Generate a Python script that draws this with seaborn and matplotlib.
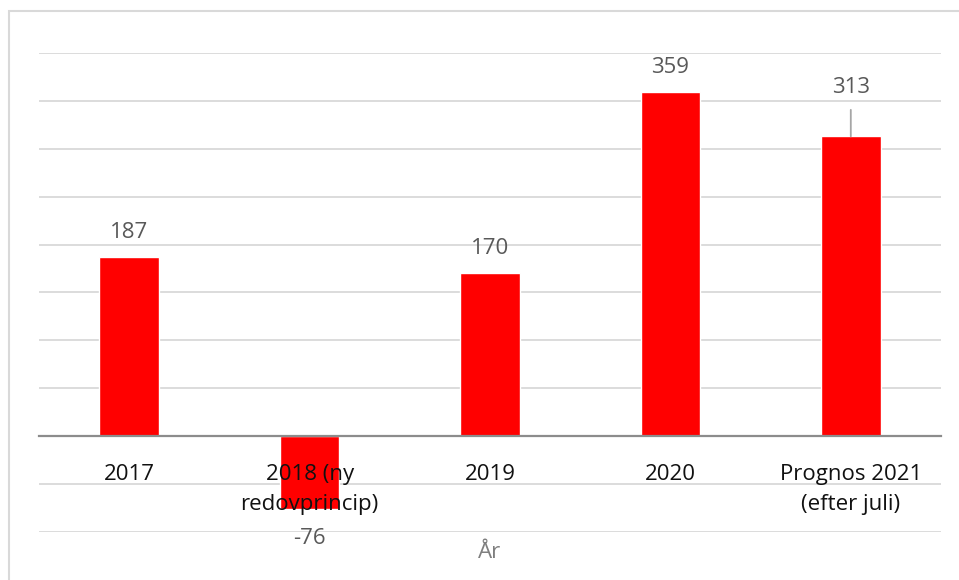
import matplotlib
matplotlib.use("Agg")
import matplotlib.pyplot as plt
import matplotlib.patches as patches
import seaborn as sns
import pandas as pd

# data
years = ["2017", "2018 (ny\nredovprincip)", "2019", "2020", "Prognos 2021\n(efter juli)"]
values = [187, -76, 170, 359, 313]

sns.set_theme(style="white")
plt.rcParams["font.family"] = ["Open Sans", "DejaVu Sans"]

df = pd.DataFrame({"År": years, "Värde": values})

fig = plt.figure(figsize=(9.59, 5.8), dpi=100)
ax = fig.add_axes([39 / 959, 1 - 532 / 580, 902 / 959, 479 / 580])

sns.barplot(data=df, x="År", y="Värde", color="#ff0000", width=0.33,
            saturation=1, ax=ax, zorder=2)

ax.set_ylim(-100, 400)
ax.set_xlim(-0.5, len(years) - 0.5)
ax.set_yticks(range(-100, 401, 50))
ax.yaxis.grid(True, color="#d9d9d9", linewidth=1.3)
ax.set_axisbelow(True)
ax.xaxis.set_zorder(5)
ax.tick_params(axis="y", left=False, labelleft=False)

for s in ["top", "right", "left"]:
    ax.spines[s].set_visible(False)
ax.spines["bottom"].set_position(("data", 0))
ax.spines["bottom"].set_color("#8c8c8c")
ax.spines["bottom"].set_linewidth(1.6)
ax.spines["bottom"].set_zorder(4)

ax.tick_params(axis="x", length=0, pad=20, labelsize=16, labelcolor="#111111")
for lbl in ax.get_xticklabels():
    lbl.set_linespacing(1.55)
ax.set_xlabel("")
ax.set_ylabel("")

# data labels
for i, v in enumerate(values):
    if i == 4:
        ax.annotate(str(v), xy=(i, v), xytext=(0, 35), textcoords="offset points",
                    ha="center", va="center", fontsize=16, color="#595959",
                    arrowprops=dict(arrowstyle="-", color="#a6a6a6", lw=1.3,
                                    shrinkA=6, shrinkB=0))
    elif v >= 0:
        ax.annotate(str(v), xy=(i, v), xytext=(0, 18), textcoords="offset points",
                    ha="center", va="center", fontsize=16, color="#595959")
    else:
        ax.annotate(str(v), xy=(i, v), xytext=(0, -21), textcoords="offset points",
                    ha="center", va="center", fontsize=16, color="#595959")

fig.text(490 / 959, 1 - 553 / 580, "År", ha="center", va="center",
         fontsize=16, color="#7f7f7f")

# outer chart frame
frame = patches.Rectangle((9 / 959, -0.2), 1.2, 1.2 - 11 / 580,
                          transform=fig.transFigure, fill=False,
                          edgecolor="#d9d9d9", linewidth=1.5)
fig.patches.append(frame)

fig.savefig("out.png", dpi=100)
